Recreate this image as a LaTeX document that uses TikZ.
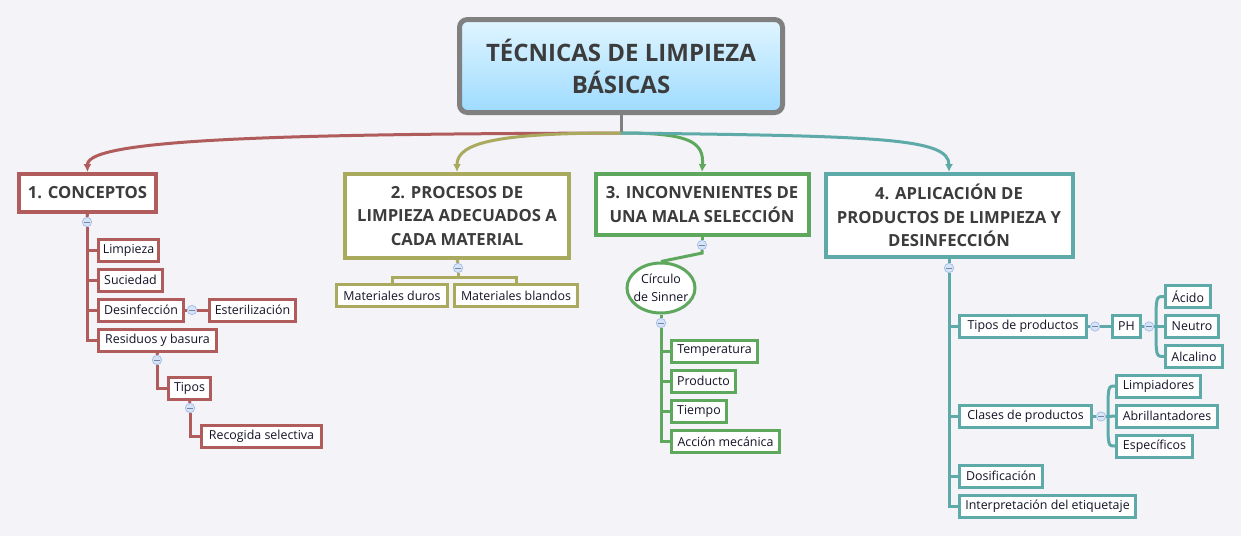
\documentclass[tikz,border=0pt]{standalone}
\usepackage{fontspec}
\setmainfont{Open Sans}
\usetikzlibrary{arrows.meta,shapes.geometric}

\definecolor{bgpaper}{RGB}{243,243,248}
\definecolor{concred}{RGB}{176,92,92}
\definecolor{procolive}{RGB}{170,170,94}
\definecolor{incgreen}{RGB}{94,168,94}
\definecolor{aplteal}{RGB}{94,170,168}
\definecolor{rootgray}{RGB}{128,128,128}
\definecolor{rooftop}{RGB}{224,245,255}
\definecolor{roofbottom}{RGB}{158,219,255}
\definecolor{markfill}{RGB}{214,228,248}
\definecolor{markline}{RGB}{168,192,232}
\definecolor{titletext}{RGB}{60,60,60}
\definecolor{leaftext}{RGB}{20,20,40}

\tikzset{
  rootbox/.style={draw=rootgray, line width=3.75pt, rounded corners=6pt,
    top color=rooftop, bottom color=roofbottom, text=titletext,
    font=\fontsize{18}{24}\selectfont\bfseries, align=center},
  branchbox/.style={draw=#1, line width=3pt, fill=white, text=titletext,
    font=\fontsize{12.5}{17.5}\selectfont\bfseries, align=center},
  leaf/.style={draw=#1, line width=2.25pt, fill=white, text=leaftext,
    font=\fontsize{9.3}{13.5}\selectfont, minimum height=16.5pt,
    inner sep=2pt, align=center},
  marker/.style={circle, draw=markline, fill=markfill, line width=0.6pt,
    minimum size=7pt, inner sep=0pt,
    path picture={\draw[markline!70!black, line width=0.6pt]
      ([xshift=-2pt]path picture bounding box.center) --
      ([xshift=2pt]path picture bounding box.center);}},
  link/.style={draw=#1, line width=2.25pt},
  mainlink/.style={draw=#1, line width=2.25pt, -{Latex[length=6pt,width=6pt]}},
}

\begin{document}
\begin{tikzpicture}[x=0.75pt,y=-0.75pt]
    % Background
    \fill[bgpaper] (0,0) rectangle (1241,536);

    % Root
    \node[rootbox, minimum width=242.25pt, minimum height=69.75pt] (root) at (621,66)
        {TÉCNICAS DE LIMPIEZA\\BÁSICAS};
    \node[coordinate] (rj) at (621,133) {};

    % Branches
    \node[branchbox=concred, minimum width=102.75pt, minimum height=28.5pt] (b1) at (87.5,193)
        {1. CONCEPTOS};
    \node[branchbox=procolive, minimum width=168pt, minimum height=63pt] (b2) at (457,216)
        {2. PROCESOS DE\\LIMPIEZA ADECUADOS A\\CADA MATERIAL};
    \node[branchbox=incgreen, minimum width=159.75pt, minimum height=45.75pt] (b3) at (702,204.5)
        {3. INCONVENIENTES DE\\UNA MALA SELECCIÓN};
    \node[branchbox=aplteal, minimum width=185.25pt, minimum height=62.25pt] (b4) at (949,215.5)
        {4. APLICACIÓN DE\\PRODUCTOS DE LIMPIEZA Y\\DESINFECCIÓN};

    % Branch 1
    \node[marker] (m1) at (87,222) {};
    \node[leaf=concred, minimum width=45pt] (limp) at (128.5,250) {Limpieza};
    \node[leaf=concred, minimum width=48pt] (suc) at (130.5,280) {Suciedad};
    \node[leaf=concred, minimum width=63.75pt] (desinf) at (141,310) {Desinfección};
    \node[marker] (m1d) at (192,310) {};
    \node[leaf=concred, minimum width=64.5pt] (ester) at (252.5,310) {Esterilización};
    \node[leaf=concred, minimum width=88.5pt] (resid) at (157.5,340) {Residuos y basura};
    \node[marker] (m1r) at (157,360) {};
    \node[leaf=concred, minimum width=31.5pt] (tipos) at (189.5,388.5) {Tipos};
    \node[marker] (m1t) at (190,408) {};
    \node[leaf=concred, minimum width=90pt] (recog) at (261.5,436.5) {Recogida selectiva};

    % Branch 2
    \node[marker] (m2) at (458,268) {};
    \node[coordinate] (j2) at (458,277) {};
    \node[leaf=procolive, minimum width=83.25pt] (duros) at (392,295.5) {Materiales duros};
    \node[leaf=procolive, minimum width=92.25pt] (blandos) at (516,295.5) {Materiales blandos};

    % Branch 3
    \node[marker] (m3) at (702,245) {};
    \node[ellipse, draw=incgreen, line width=2.25pt, fill=white, text=leaftext,
          font=\fontsize{9.3}{13.5}\selectfont, align=center, inner xsep=-4pt, inner ysep=0pt,
          minimum width=51pt, minimum height=37.5pt] (sinner) at (661,288) {Círculo\\de Sinner};
    \node[marker] (m3s) at (661,323) {};
    \node[leaf=incgreen, minimum width=64.5pt] (temp) at (714.5,351) {Temperatura};
    \node[leaf=incgreen, minimum width=48pt] (prod) at (703.5,381) {Producto};
    \node[leaf=incgreen, minimum width=41.25pt] (tiempo) at (699,411) {Tiempo};
    \node[leaf=incgreen, minimum width=81pt] (accion) at (725.5,441.5) {Acción mecánica};

    % Branch 4
    \node[marker] (m4) at (949,268) {};
    \node[leaf=aplteal, minimum width=95.25pt] (tprod) at (1023,326.5) {Tipos de productos};
    \node[marker] (m4t) at (1095,326.5) {};
    \node[leaf=aplteal, minimum width=21pt] (ph) at (1126.5,326.5) {PH};
    \node[marker] (m4p) at (1149,326.5) {};
    \node[coordinate] (f4p) at (1156,326.5) {};
    \node[leaf=aplteal, minimum width=33.75pt] (acido) at (1188,296.5) {Ácido};
    \node[leaf=aplteal, minimum width=39.75pt] (neutro) at (1192,326.5) {Neutro};
    \node[leaf=aplteal, minimum width=42.75pt] (alcal) at (1194,356.5) {Alcalino};
    \node[leaf=aplteal, minimum width=99pt] (clases) at (1025.5,416.5) {Clases de productos};
    \node[marker] (m4c) at (1101,416.5) {};
    \node[coordinate] (f4c) at (1108,416.5) {};
    \node[leaf=aplteal, minimum width=63pt] (limpiad) at (1158.5,386) {Limpiadores};
    \node[leaf=aplteal, minimum width=75.75pt] (abrill) at (1167,416) {Abrillantadores};
    \node[leaf=aplteal, minimum width=57pt] (especif) at (1154.5,446) {Específicos};
    \node[leaf=aplteal, minimum width=62.25pt] (dosif) at (1001,476) {Dosificación};
    \node[leaf=aplteal, minimum width=132pt] (interp) at (1047.5,506) {Interpretación del etiquetaje};

    % Main links
    \draw[link=rootgray] (root.south) -- (rj);
    \draw[mainlink=concred] (rj) .. controls (300,134) and (87,138) .. (b1.north);
    \draw[mainlink=procolive] (rj) .. controls (500,133) and (457,142) .. (b2.north);
    \draw[mainlink=incgreen] (rj) .. controls (690,133) and (704,142) .. (b3.north);
    \draw[mainlink=aplteal] (rj) .. controls (880,136) and (949,138) .. (b4.north);

    % Edges, branch 1
    \draw[link=concred] (b1.south) -- (m1.north);
    \draw[link=concred] (m1.south) |- (limp.west);
    \draw[link=concred] (m1.south) |- (suc.west);
    \draw[link=concred] (m1.south) |- (desinf.west);
    \draw[link=concred] (m1.south) |- (resid.west);
    \draw[link=concred] (desinf.east) -- (m1d.west);
    \draw[link=concred] (m1d.east) -- (ester.west);
    \draw[link=concred] (resid.south) -- (m1r.north);
    \draw[link=concred] (m1r.south) |- (tipos.west);
    \draw[link=concred] (tipos.south) -- (m1t.north);
    \draw[link=concred] (m1t.south) |- (recog.west);

    % Edges, branch 2
    \draw[link=procolive] (b2.south) -- (m2.north);
    \draw[link=procolive] (m2.south) -- (j2);
    \draw[link=procolive] (duros.north) |- (j2) -| (blandos.north);

    % Edges, branch 3
    \draw[link=incgreen] (b3.south) -- (m3.north);
    \draw[link=incgreen] (m3.south) -- ++(0,3) -- (sinner.north);
    \draw[link=incgreen] (sinner.south) -- (m3s.north);
    \draw[link=incgreen] (m3s.south) |- (temp.west);
    \draw[link=incgreen] (m3s.south) |- (prod.west);
    \draw[link=incgreen] (m3s.south) |- (tiempo.west);
    \draw[link=incgreen] (m3s.south) |- (accion.west);

    % Edges, branch 4
    \draw[link=aplteal] (b4.south) -- (m4.north);
    \draw[link=aplteal] (m4.south) |- (tprod.west);
    \draw[link=aplteal] (m4.south) |- (clases.west);
    \draw[link=aplteal] (m4.south) |- (dosif.west);
    \draw[link=aplteal] (m4.south) |- (interp.west);
    \draw[link=aplteal] (tprod.east) -- (m4t.west);
    \draw[link=aplteal] (m4t.east) -- (ph.west);
    \draw[link=aplteal] (ph.east) -- (m4p.west);
    \draw[link=aplteal] (m4p.east) -- (f4p);
    \draw[link=aplteal] (f4p) -- (neutro.west);
    \draw[link=aplteal] (f4p) .. controls (1156,296.5) .. (acido.west);
    \draw[link=aplteal] (f4p) .. controls (1156,356.5) .. (alcal.west);
    \draw[link=aplteal] (clases.east) -- (m4c.west);
    \draw[link=aplteal] (m4c.east) -- (f4c);
    \draw[link=aplteal] (f4c) -- (abrill.west);
    \draw[link=aplteal] (f4c) .. controls (1108,386) .. (limpiad.west);
    \draw[link=aplteal] (f4c) .. controls (1108,446) .. (especif.west);
\end{tikzpicture}
\end{document}
